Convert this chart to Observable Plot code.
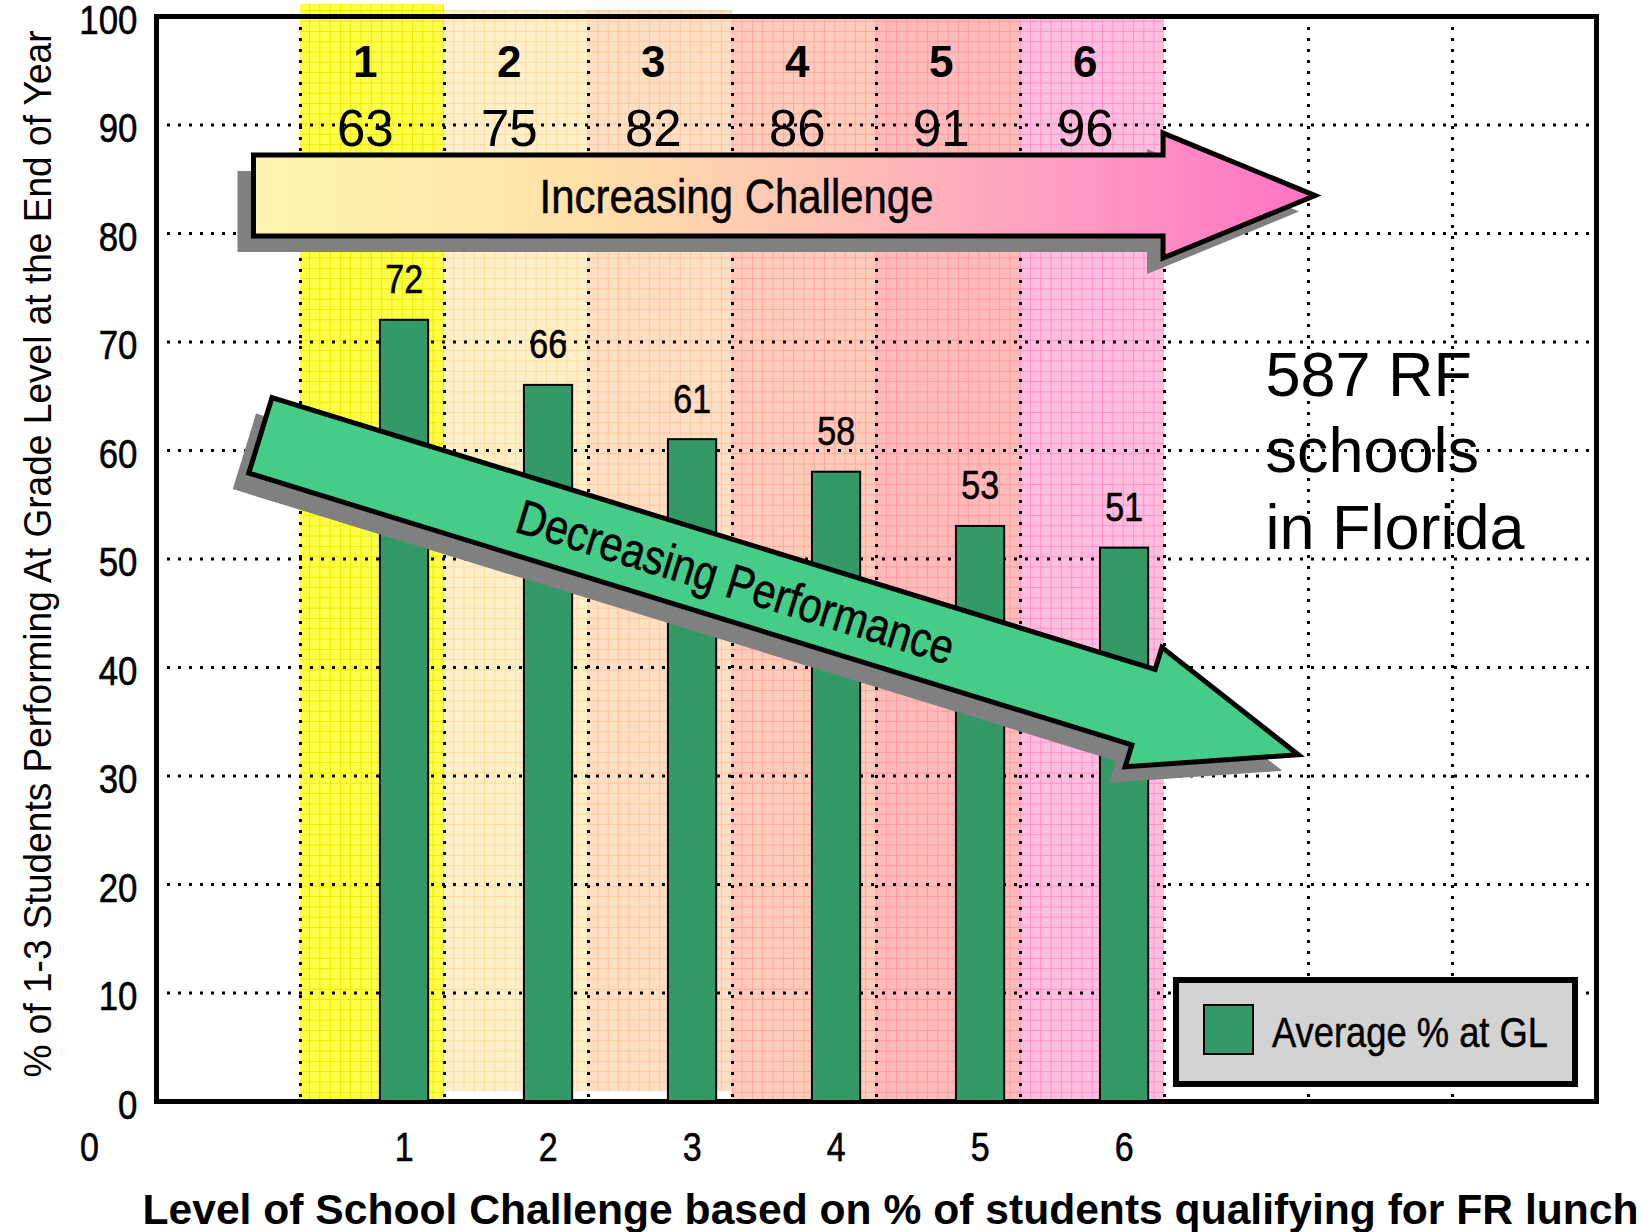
<!DOCTYPE html>
<html>
<head>
<meta charset="utf-8">
<script src="https://cdn.jsdelivr.net/npm/d3@7"></script>
<script src="https://cdn.jsdelivr.net/npm/@observablehq/plot@0.6"></script>
<style>
  html, body { margin: 0; padding: 0; background: #ffffff; overflow: hidden; }
  #chart svg { display: block; }
</style>
</head>
<body>
<div id="chart"></div>
<script>
// ---------------- data ----------------
const levels = [1, 2, 3, 4, 5, 6];
const frLunchPct = [63, 75, 82, 86, 91, 96];      // % qualifying for FR lunch (band headers)
const avgAtGL = [72, 66, 61, 58, 53, 51];         // Average % at grade level (bars)
const yTicks = [0, 10, 20, 30, 40, 50, 60, 70, 80, 90, 100];
const xTickLabels = ["1", "2", "3", "4", "5", "6"];
const originLabel = "0";
const yTitle = "% of 1-3 Students Performing At Grade Level at the End of Year";
const xTitle = "Level of School Challenge based on % of students qualifying for FR lunch";
const noteText = "587 RF\nschools\nin Florida";
const legendLabel = "Average % at GL";
const challengeText = "Increasing Challenge";
const performanceText = "Decreasing Performance";

// ---------------- styles ----------------
const CONDENSED = "Liberation Sans, Arial, sans-serif";          // compressed after render
const ARIAL = "'Liberation Sans', Arial, Helvetica, sans-serif";
const condenseRatio = 0.85;
const barFill = "#339966";
const bandBase = ["#ffff48", "#fff0c9", "#ffdfc3", "#ffcbbb", "#ffbaba", "#ffbee0"];
const bandLine = ["#eeea00", "#ffdc9c", "#ffc79e", "#ffa89c", "#ff9aa2", "#ff8fcc"];
const bandTop = [101.1, 100.55, 100.55, 100, 100, 100];
const bandBottom = [0, 0.9, 0.9, 0, 0, 0];
const condensedText = {fontFamily: CONDENSED, fill: "#000", stroke: "#000", strokeWidth: 0.6};

const rows = levels.map((lv, i) => ({level: lv, fr: frLunchPct[i], avg: avgAtGL[i], tick: xTickLabels[i]}));

// block arrow annotation drawn through the plot's scales
function blockArrow(spec) {
  return (index, scales) => {
    const x0 = scales.x(spec.from[0]), y0 = scales.y(spec.from[1]);
    const x1 = scales.x(spec.to[0]), y1 = scales.y(spec.to[1]);
    const L = Math.hypot(x1 - x0, y1 - y0);
    const deg = Math.atan2(y1 - y0, x1 - x0) * 180 / Math.PI;
    const b = spec.bodyHalf, h = spec.headHalf, n = L - spec.headLen;
    const pts = [[0, -b], [n, -b], [n, -h], [L, 0], [n, h], [n, b], [0, b]];
    const d = "M" + pts.map(p => p.join(",")).join("L") + "Z";
    const g = d3.create("svg:g").attr("transform", `translate(${x0},${y0})`);
    let fill = spec.fill;
    if (spec.gradient) {
      const gid = spec.id + "-grad";
      const lg = g.append("defs").append("linearGradient").attr("id", gid)
        .attr("gradientUnits", "userSpaceOnUse").attr("x1", 0).attr("y1", 0).attr("x2", L).attr("y2", 0);
      spec.gradient.forEach(([o, c]) => lg.append("stop").attr("offset", o).attr("stop-color", c));
      fill = `url(#${gid})`;
    }
    g.append("path").attr("d", d).attr("fill", "#808080")
      .attr("transform", `translate(-16,16) rotate(${deg})`);
    g.append("path").attr("d", d).attr("fill", fill).attr("stroke", "#000")
      .attr("stroke-width", 5).attr("stroke-linejoin", "miter").attr("transform", `rotate(${deg})`);
    g.append("text").attr("transform", `rotate(${deg}) translate(${L * spec.textAt},0)`)
      .attr("text-anchor", "middle").attr("dy", "0.35em")
      .attr("font-family", ARIAL).attr("font-size", 49).attr("fill", "#000")
      .attr("stroke", "#000").attr("stroke-width", 0.5)
      .attr("textLength", spec.textLength).attr("lengthAdjust", "spacingAndGlyphs")
      .text(spec.text);
    return g.node();
  };
}

// legend box inside the frame (bottom-right corner)
function legendBox(index, scales, values, dims) {
  const right = dims.width - dims.marginRight - 21;
  const bottom = dims.height - dims.marginBottom - 17;
  const bw = 399, bh = 104, left = right - bw, top = bottom - bh;
  const g = d3.create("svg:g");
  g.append("rect").attr("x", left).attr("y", top).attr("width", bw).attr("height", bh)
    .attr("fill", "#d3d3d3").attr("stroke", "#000").attr("stroke-width", 6);
  g.append("rect").attr("x", left + 28).attr("y", top + 25).attr("width", 49).attr("height", 49)
    .attr("fill", barFill).attr("stroke", "#000").attr("stroke-width", 2);
  g.append("text").attr("x", left + 96).attr("y", top + 67).attr("text-anchor", "start")
    .attr("font-family", ARIAL).attr("font-size", 43).attr("fill", "#000")
    .attr("stroke", "#000").attr("stroke-width", 0.5)
    .attr("textLength", 276).attr("lengthAdjust", "spacingAndGlyphs")
    .text(legendLabel);
  return g.node();
}

const chart = Plot.plot({
  width: 1646,
  height: 1232,
  marginTop: 16,
  marginRight: 50,
  marginBottom: 131,
  marginLeft: 156,
  style: {fontFamily: ARIAL, fontSize: "40px", background: "#ffffff", overflow: "visible", color: "#000"},
  x: {domain: [0, 10], axis: null},
  y: {domain: [0, 100], axis: null},
  marks: [
    // challenge bands
    Plot.rect(rows, {
      x1: d => d.level, x2: d => d.level + 1,
      y1: d => bandBottom[d.level - 1], y2: d => bandTop[d.level - 1],
      fill: d => `url(#band${d.level})`
    }),
    // dotted grid
    Plot.ruleY(yTicks.filter(v => v > 0 && v < 100), {stroke: "#000", strokeWidth: 3, strokeDasharray: "3 8"}),
    Plot.ruleX(d3.range(1, 10), {stroke: "#000", strokeWidth: 3, strokeDasharray: "3 8"}),
    Plot.frame({stroke: "#000", strokeWidth: 5}),
    // y tick labels
    Plot.text(yTicks, {
      y: d => d, text: d => String(d), frameAnchor: "left", textAnchor: "end",
      dx: -19, dy: 4, fontSize: 41, ...condensedText
    }),
    // bars
    Plot.rect(rows, {
      x1: d => d.level + 0.555, x2: d => d.level + 0.89,
      y1: 0, y2: "avg", fill: barFill, stroke: "#000", strokeWidth: 2
    }),
    Plot.text(rows, {
      x: d => d.level + 0.72, y: "avg", text: d => String(d.avg),
      lineAnchor: "bottom", dy: -27, fontSize: 40, ...condensedText
    }),
    // band headers
    Plot.text(rows, {
      x: d => d.level + 0.45, text: d => String(d.level), frameAnchor: "top",
      dy: 60, lineAnchor: "bottom", fontSize: 44, fontWeight: "bold", fontFamily: ARIAL
    }),
    Plot.text(rows, {
      x: d => d.level + 0.45, text: d => String(d.fr), frameAnchor: "top",
      dy: 129, lineAnchor: "bottom", fontSize: 51, fontFamily: ARIAL
    }),
    // arrows
    blockArrow({
      id: "challenge", from: [0.677, 83.45], to: [8.049, 83.45],
      bodyHalf: 40.5, headHalf: 62.5, headLen: 152,
      gradient: [[0, "#fff5b0"], [0.3, "#ffe2a8"], [0.5, "#ffc8b2"], [0.75, "#ff9ec2"], [1, "#ff72c4"]],
      text: challengeText, textAt: 0.455, textLength: 394
    }),
    blockArrow({
      id: "performance", from: [0.725, 61.35], to: [7.933, 31.91],
      bodyHalf: 39.5, headHalf: 62.5, headLen: 162, fill: "#44cc88",
      text: performanceText, textAt: 0.458, textLength: 455
    }),
    // note
    Plot.text([noteText], {
      text: d => d, frameAnchor: "top-left", dx: 1109, dy: 532, textAnchor: "start",
      lineAnchor: "bottom", lineHeight: 1.214, fontSize: 63, fontFamily: ARIAL
    }),
    legendBox,
    // x tick labels
    Plot.text(rows, {
      x: d => d.level + 0.72, text: "tick", frameAnchor: "bottom", dy: 59,
      lineAnchor: "bottom", fontSize: 40, ...condensedText
    }),
    Plot.text([originLabel], {
      text: d => d, frameAnchor: "bottom-left", dx: -67, dy: 59, textAnchor: "middle",
      lineAnchor: "bottom", fontSize: 40, ...condensedText
    }),
    // axis titles
    Plot.text([xTitle], {
      text: d => d, frameAnchor: "bottom", dx: 14, dy: 122, textAnchor: "middle",
      lineAnchor: "bottom", fontSize: 42, fontWeight: "bold", fontFamily: ARIAL
    }),
    Plot.text([yTitle], {
      text: d => d, frameAnchor: "left", rotate: -90, dx: -106, dy: -5, textAnchor: "middle",
      lineAnchor: "bottom", fontSize: 38.5, fontFamily: ARIAL
    })
  ]
});

// patterns for the bands
const svgSel = d3.select(chart);
const defs = svgSel.insert("defs", ":first-child");
levels.forEach((lv, i) => {
  const p = defs.append("pattern").attr("id", `band${lv}`).attr("patternUnits", "userSpaceOnUse")
    .attr("width", 10.3).attr("height", 10.3);
  p.append("rect").attr("width", 10.3).attr("height", 10.3).attr("fill", bandBase[i]);
  p.append("path").attr("d", "M0,0.5H10.3M0.5,0V10.3").attr("stroke", bandLine[i]).attr("stroke-width", 1);
});

document.getElementById("chart").appendChild(chart);

// fit long titles to their measured lengths; condense the narrow-font labels
svgSel.selectAll("text").each(function () {
  if (this.textContent === xTitle) d3.select(this).attr("textLength", 1496).attr("lengthAdjust", "spacingAndGlyphs");
  if (this.textContent === yTitle) d3.select(this).attr("textLength", 1047).attr("lengthAdjust", "spacingAndGlyphs");
});
svgSel.selectAll(`g[font-family="${CONDENSED}"] text`).each(function () {
  const len = this.getComputedTextLength();
  if (len > 0) d3.select(this).attr("textLength", len * condenseRatio).attr("lengthAdjust", "spacingAndGlyphs");
});
</script>
</body>
</html>
